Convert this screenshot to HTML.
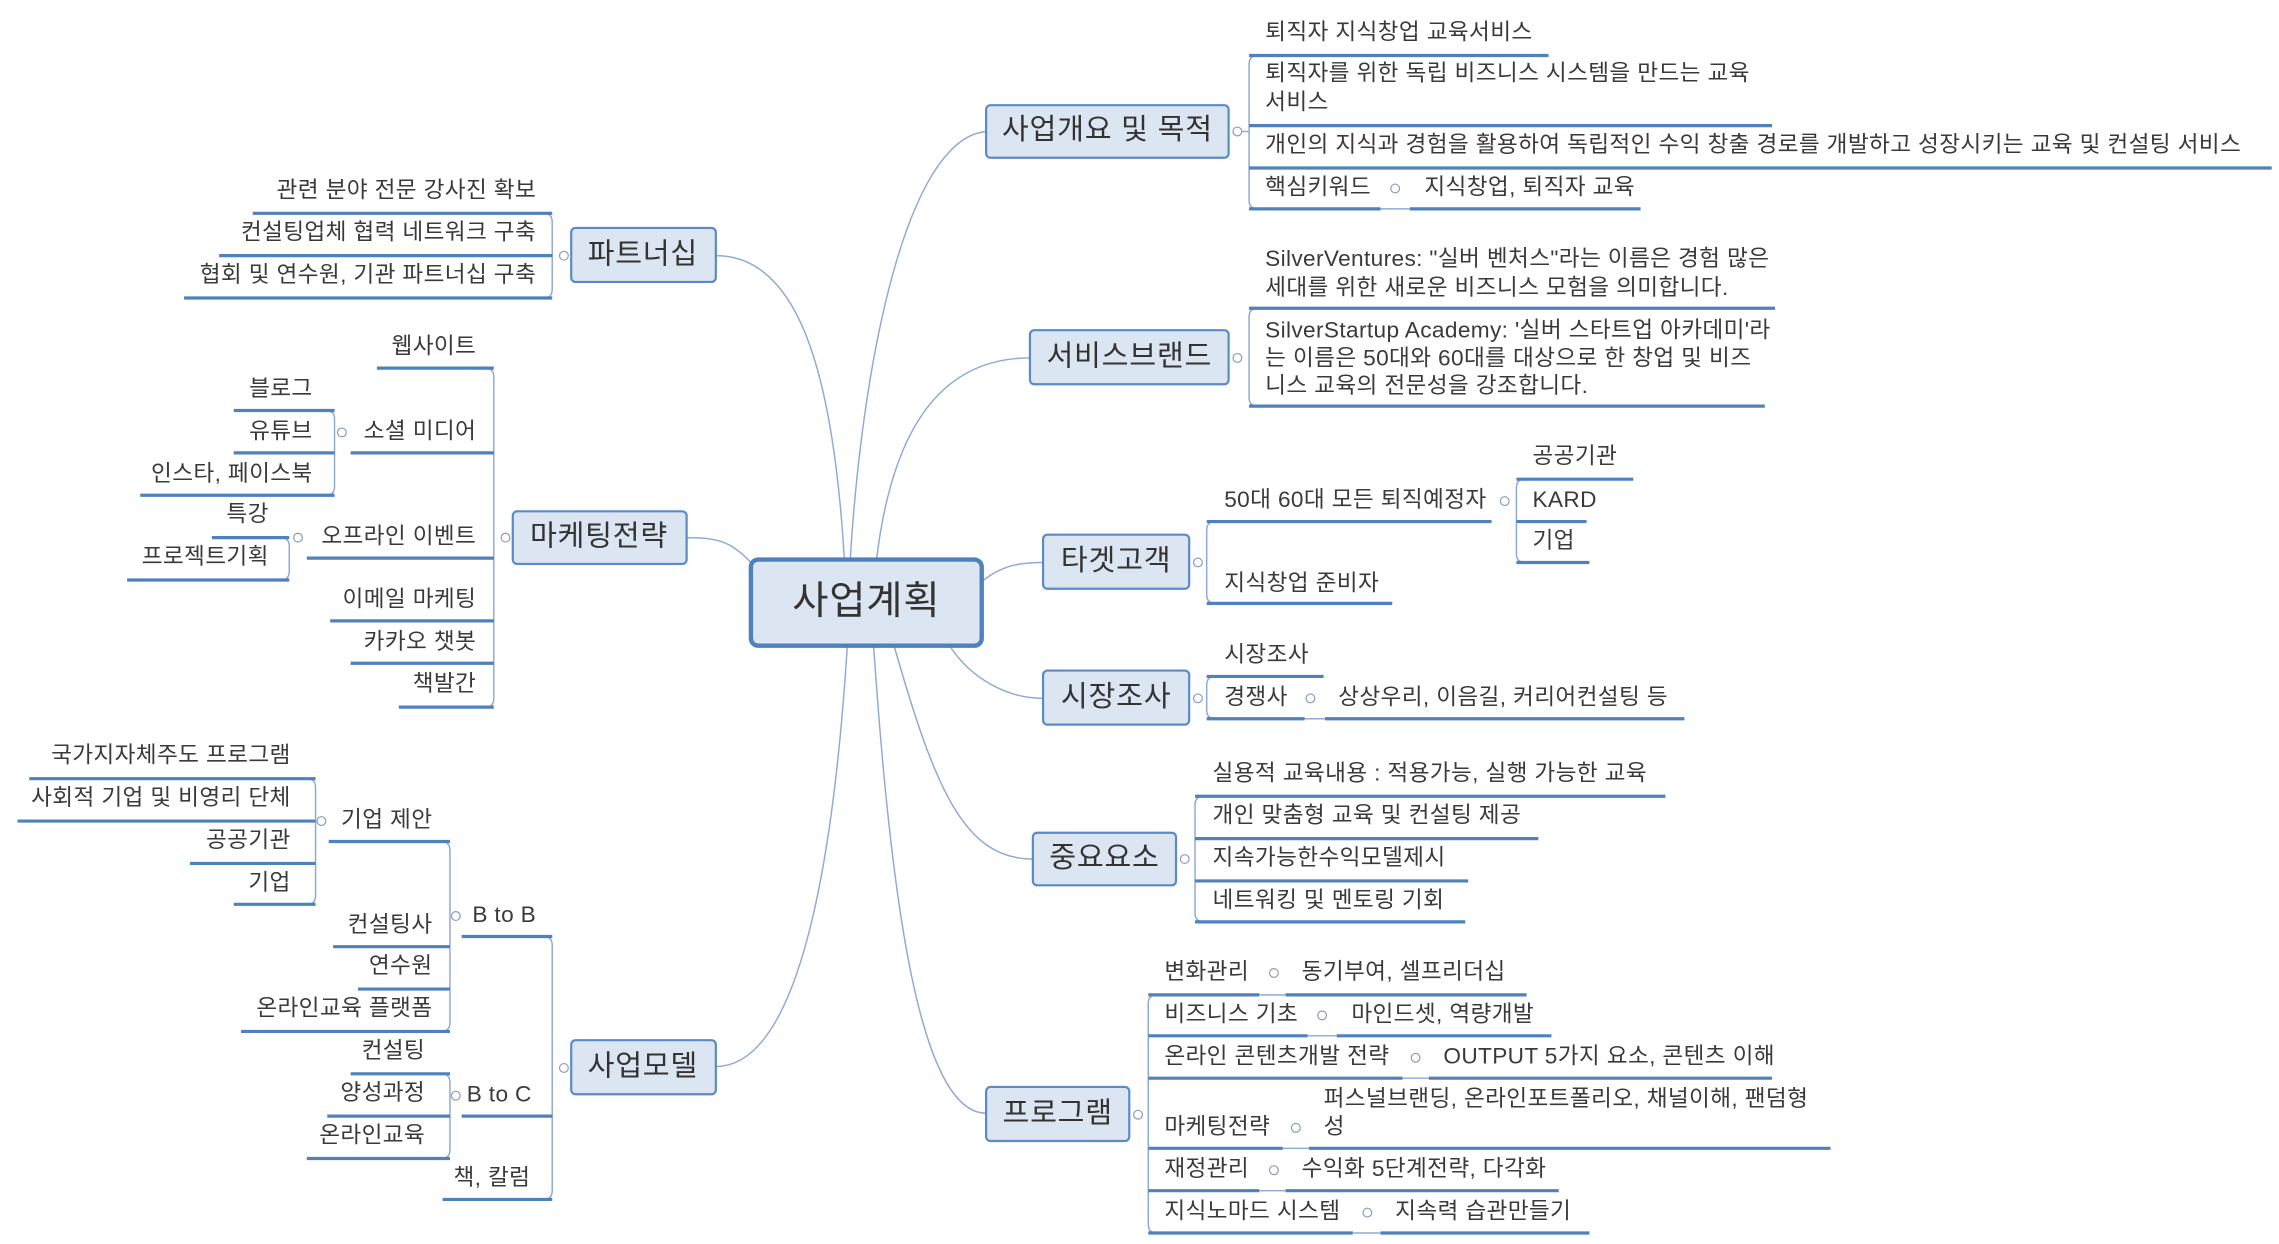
<!DOCTYPE html>
<html><head><meta charset="utf-8"><style>
html,body{margin:0;padding:0;background:#fff}
svg{display:block}
text{font-family:"Liberation Sans","Noto Sans CJK KR",sans-serif;fill:#3a3a3a;font-size:15.5px;letter-spacing:0.25px;dominant-baseline:middle}
.u{stroke:#4f81bd;stroke-width:2.2;fill:none}
.c{stroke:#8eaad4;stroke-width:1;fill:none}
.b{fill:#dce6f2;stroke:#5b8ac6;stroke-width:1.5}
.bt{font-size:20px;letter-spacing:0.5px;text-anchor:middle;fill:#333}
.e{text-anchor:end}
.k{fill:#fff;stroke:#8a9bb5;stroke-width:0.8}
</style></head><body>
<svg width="2279" height="1244" viewBox="0 0 1560 851.5" preserveAspectRatio="none" xmlns="http://www.w3.org/2000/svg">
<path class="c" d="M582,383 C590,250 620,95 675,90"/>
<path class="c" d="M600,383 C610,300 640,245 705,245"/>
<path class="c" d="M672,398 C685,388 695,385 714,385"/>
<path class="c" d="M650,442 C665,465 690,478 714,478"/>
<path class="c" d="M612,442 C640,540 660,588 707,588"/>
<path class="c" d="M598,442 C610,620 630,762 675,762"/>
<path class="c" d="M578,383 C570,250 545,175 490,175"/>
<path class="c" d="M514,385 C500,370 490,368 470,368"/>
<path class="c" d="M580,442 C570,600 545,730 490,730"/>

<rect x="514" y="383" width="158" height="59" rx="5" fill="#dce6f2" stroke="#4f81bd" stroke-width="3"/>
<text x="593" y="413" class="bt" style="font-size:27px">사업계획</text>

<rect class="b" x="675" y="72" width="166" height="36" rx="3"/>
<text x="758" y="90" class="bt">사업개요 및 목적</text>
<circle class="k" cx="847" cy="90" r="3"/>
<path class="c" d="M850,90 L855,90 M861,38 Q855,38 855,44 L855,137 Q855,143 861,143"/>
<text x="866" y="23">퇴직자 지식창업 교육서비스</text>
<path class="u" d="M855,38 H1060"/>
<text x="866" y="51">퇴직자를 위한 독립 비즈니스 시스템을 만드는 교육</text>
<text x="866" y="71">서비스</text>
<path class="u" d="M855,86 H1213"/>
<text x="866" y="100">개인의 지식과 경험을 활용하여 독립적인 수익 창출 경로를 개발하고 성장시키는 교육 및 컨설팅 서비스</text>
<path class="u" d="M855,115 H1555"/>
<text x="866" y="129">핵심키워드</text>
<circle class="k" cx="955" cy="129" r="3"/>
<text x="975" y="129">지식창업, 퇴직자 교육</text>
<path class="u" d="M855,143 H945 M965,143 H1123"/>
<path class="c" d="M945,143 H965"/>

<rect class="b" x="705" y="226" width="136" height="37" rx="3"/>
<text x="773" y="245" class="bt">서비스브랜드</text>
<circle class="k" cx="847" cy="245" r="3"/>
<path class="c" d="M861,211 Q855,211 855,217 L855,272 Q855,278 861,278"/>
<text x="866" y="178">SilverVentures: "실버 벤처스"라는 이름은 경험 많은</text>
<text x="866" y="198">세대를 위한 새로운 비즈니스 모험을 의미합니다.</text>
<path class="u" d="M855,211 H1215"/>
<text x="866" y="227">SilverStartup Academy: '실버 스타트업 아카데미'라</text>
<text x="866" y="246">는 이름은 50대와 60대를 대상으로 한 창업 및 비즈</text>
<text x="866" y="265">니스 교육의 전문성을 강조합니다.</text>
<path class="u" d="M855,278 H1208"/>

<rect class="b" x="714" y="366" width="100" height="37" rx="3"/>
<text x="764" y="385" class="bt">타겟고객</text>
<circle class="k" cx="820" cy="385" r="3"/>
<path class="c" d="M832,357 Q826,357 826,363 L826,407 Q826,413 832,413"/>
<text x="838" y="343">50대 60대 모든 퇴직예정자</text>
<path class="u" d="M826,357 H1021"/>
<circle class="k" cx="1030" cy="343" r="3"/>
<path class="c" d="M1044,328 Q1038,328 1038,334 L1038,379 Q1038,385 1044,385"/>
<text x="1049" y="313">공공기관</text>
<path class="u" d="M1038,328 H1118"/>
<text x="1049" y="343">KARD</text>
<path class="u" d="M1038,357 H1086"/>
<text x="1049" y="371">기업</text>
<path class="u" d="M1038,385 H1088"/>
<text x="838" y="400">지식창업 준비자</text>
<path class="u" d="M826,413 H953"/>

<rect class="b" x="714" y="459" width="100" height="37" rx="3"/>
<text x="764" y="478" class="bt">시장조사</text>
<circle class="k" cx="820" cy="478" r="3"/>
<path class="c" d="M832,463 Q826,463 826,469 L826,486 Q826,492 832,492"/>
<text x="838" y="449">시장조사</text>
<path class="u" d="M826,463 H906"/>
<text x="838" y="478">경쟁사</text>
<circle class="k" cx="897" cy="478" r="3"/>
<text x="916" y="478">상상우리, 이음길, 커리어컨설팅 등</text>
<path class="u" d="M826,492 H893 M907,492 H1153"/>
<path class="c" d="M893,492 H907"/>

<rect class="b" x="707" y="570" width="98" height="36" rx="3"/>
<text x="756" y="588" class="bt">중요요소</text>
<circle class="k" cx="811" cy="588" r="3"/>
<path class="c" d="M824,545 Q818,545 818,551 L818,625 Q818,631 824,631"/>
<text x="830" y="530">실용적 교육내용 : 적용가능, 실행 가능한 교육</text>
<path class="u" d="M818,545 H1140"/>
<text x="830" y="559">개인 맞춤형 교육 및 컨설팅 제공</text>
<path class="u" d="M818,574 H1053"/>
<text x="830" y="588">지속가능한수익모델제시</text>
<path class="u" d="M818,603 H1005"/>
<text x="830" y="617">네트워킹 및 멘토링 기회</text>
<path class="u" d="M818,631 H1003"/>

<rect class="b" x="675" y="744" width="98" height="37" rx="3"/>
<text x="724" y="763" class="bt">프로그램</text>
<circle class="k" cx="779" cy="763" r="3"/>
<path class="c" d="M792,681 Q786,681 786,687 L786,838 Q786,844 792,844"/>
<text x="797" y="666">변화관리</text><circle class="k" cx="872" cy="666" r="3"/><text x="891" y="666">동기부여, 셀프리더십</text>
<path class="u" d="M786,681 H862 M880,681 H1045"/>
<text x="797" y="695">비즈니스 기초</text><circle class="k" cx="905" cy="695" r="3"/><text x="925" y="695">마인드셋, 역량개발</text>
<path class="u" d="M786,709 H895 M915,709 H1062"/>
<text x="797" y="724">온라인 콘텐츠개발 전략</text><circle class="k" cx="969" cy="724" r="3"/><text x="988" y="724">OUTPUT 5가지 요소, 콘텐츠 이해</text>
<path class="u" d="M786,738 H960 M978,738 H1213"/>
<text x="797" y="772">마케팅전략</text><circle class="k" cx="887" cy="772" r="3"/><text x="906" y="753">퍼스널브랜딩, 온라인포트폴리오, 채널이해, 팬덤형</text><text x="906" y="772">성</text>
<path class="u" d="M786,786 H878 M896,786 H1253"/>
<text x="797" y="801">재정관리</text><circle class="k" cx="872" cy="801" r="3"/><text x="891" y="801">수익화 5단계전략, 다각화</text>
<path class="u" d="M786,815 H862 M880,815 H1067"/>
<text x="797" y="830">지식노마드 시스템</text><circle class="k" cx="936" cy="830" r="3"/><text x="955" y="830">지속력 습관만들기</text>
<path class="u" d="M786,844 H926 M945,844 H1088"/>
<path class="c" d="M862,681 H880 M895,709 H915 M960,738 H978 M878,786 H896 M862,815 H880 M926,844 H945"/>

<rect class="b" x="391" y="156" width="99" height="37" rx="3"/>
<text x="440" y="175" class="bt">파트너십</text>
<circle class="k" cx="386" cy="175" r="3"/>
<path class="c" d="M372,146 Q378,146 378,152 L378,198 Q378,204 372,204"/>
<text x="367" y="131" class="e">관련 분야 전문 강사진 확보</text>
<path class="u" d="M173,146 H378"/>
<text x="367" y="160" class="e">컨설팅업체 협력 네트워크 구축</text>
<path class="u" d="M150,175 H378"/>
<text x="367" y="189" class="e">협회 및 연수원, 기관 파트너십 구축</text>
<path class="u" d="M126,204 H378"/>

<rect class="b" x="351" y="350" width="119" height="36" rx="3"/>
<text x="410" y="368" class="bt">마케팅전략</text>
<circle class="k" cx="346" cy="368" r="3"/>
<path class="c" d="M332,252 Q338,252 338,258 L338,478 Q338,484 332,484"/>
<text x="326" y="238" class="e">웹사이트</text>
<path class="u" d="M258,252 H338"/>
<text x="326" y="296" class="e">소셜 미디어</text>
<path class="u" d="M240,310 H338"/>
<circle class="k" cx="234" cy="296" r="3"/>
<path class="c" d="M223,281 Q229,281 229,287 L229,333 Q229,339 223,339"/>
<text x="214" y="267" class="e">블로그</text>
<path class="u" d="M160,281 H229"/>
<text x="214" y="296" class="e">유튜브</text>
<path class="u" d="M160,310 H229"/>
<text x="214" y="325" class="e">인스타, 페이스북</text>
<path class="u" d="M96,339 H229"/>
<text x="326" y="368" class="e">오프라인 이벤트</text>
<path class="u" d="M210,382 H338"/>
<circle class="k" cx="204" cy="368" r="3"/>
<path class="c" d="M192,368 Q198,368 198,374 L198,391 Q198,397 192,397"/>
<text x="184" y="353" class="e">특강</text>
<path class="u" d="M145,368 H198"/>
<text x="184" y="382" class="e">프로젝트기획</text>
<path class="u" d="M87,397 H198"/>
<text x="326" y="411" class="e">이메일 마케팅</text>
<path class="u" d="M226,425 H338"/>
<text x="326" y="440" class="e">카카오 챗봇</text>
<path class="u" d="M240,454 H338"/>
<text x="326" y="469" class="e">책발간</text>
<path class="u" d="M273,484 H338"/>

<rect class="b" x="391" y="712" width="99" height="37" rx="3"/>
<text x="440" y="731" class="bt">사업모델</text>
<circle class="k" cx="386" cy="731" r="3"/>
<path class="c" d="M372,641 Q378,641 378,647 L378,815 Q378,821 372,821"/>
<text x="367" y="627" class="e">B to B</text>
<path class="u" d="M316,641 H378"/>
<circle class="k" cx="312" cy="627" r="3"/>
<path class="c" d="M302,576 Q308,576 308,582 L308,700 Q308,706 302,706"/>
<text x="296" y="562" class="e">기업 제안</text>
<path class="u" d="M225,576 H308"/>
<circle class="k" cx="220" cy="562" r="3"/>
<path class="c" d="M210,533 Q216,533 216,539 L216,613 Q216,619 210,619"/>
<text x="199" y="518" class="e">국가지자체주도 프로그램</text>
<path class="u" d="M20,533 H216"/>
<text x="199" y="547" class="e">사회적 기업 및 비영리 단체</text>
<path class="u" d="M12,562 H216"/>
<text x="199" y="576" class="e">공공기관</text>
<path class="u" d="M130,591 H216"/>
<text x="199" y="605" class="e">기업</text>
<path class="u" d="M160,619 H216"/>
<text x="296" y="634" class="e">컨설팅사</text>
<path class="u" d="M228,648 H308"/>
<text x="296" y="662" class="e">연수원</text>
<path class="u" d="M245,677 H308"/>
<text x="296" y="691" class="e">온라인교육 플랫폼</text>
<path class="u" d="M165,706 H308"/>
<text x="364" y="750" class="e">B to C</text>
<path class="u" d="M316,764 H378"/>
<circle class="k" cx="312" cy="750" r="3"/>
<path class="c" d="M302,735 Q308,735 308,741 L308,787 Q308,793 302,793"/>
<text x="291" y="720" class="e">컨설팅</text>
<path class="u" d="M240,735 H308"/>
<text x="291" y="749" class="e">양성과정</text>
<path class="u" d="M224,764 H308"/>
<text x="291" y="778" class="e">온라인교육</text>
<path class="u" d="M210,793 H308"/>
<text x="363" y="807" class="e">책, 칼럼</text>
<path class="u" d="M303,821 H378"/>
</svg>
</body></html>
